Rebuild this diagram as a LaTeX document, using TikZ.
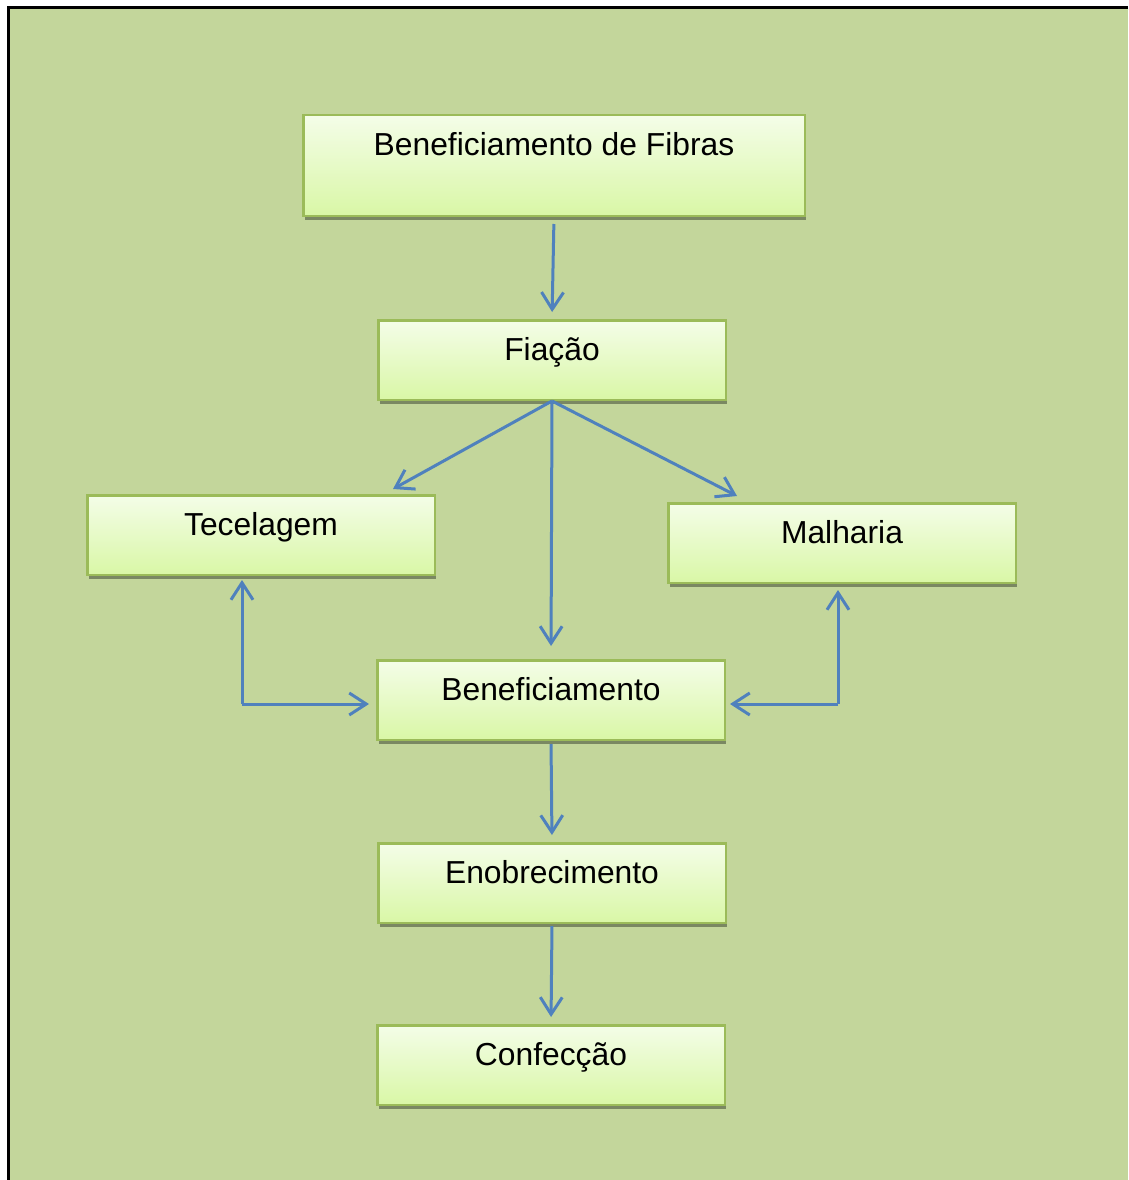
\documentclass[tikz,border=0pt]{standalone}
\usepackage{fontspec}
\setmainfont{Liberation Sans}
\usetikzlibrary{arrows.meta,shadows,calc}
\definecolor{bgGreen}{HTML}{C3D69B}
\definecolor{boxEdge}{HTML}{9BBB59}
\definecolor{boxTop}{HTML}{F4FDE8}
\definecolor{boxBottom}{HTML}{D9F7A6}
\definecolor{boxShadow}{HTML}{7A8862}
\definecolor{flowBlue}{HTML}{4F81BD}
\tikzset{
  x=1pt, y=-1pt,
  stagebox/.style={draw=boxEdge, line width=2.5pt, top color=boxTop, bottom color=boxBottom,
    minimum width=347.5pt, minimum height=79.5pt, inner sep=0pt,
    drop shadow={shadow xshift=1.5pt, shadow yshift=-4pt, fill=boxShadow, opacity=1}},
  stagetext/.style={anchor=base, font=\fontsize{31.8}{38}\selectfont, inner sep=0pt},
  flow/.style={draw=flowBlue, line width=3pt,
    -{Straight Barb[length=17pt, width=22pt, line width=3pt]}},
}
\newcommand{\stagelabel}[2]{\node[stagetext] at ($(#1.north)+(0,41)$) {#2};}
\begin{document}
\begin{tikzpicture}
\useasboundingbox (0,0) rectangle (1128,1180);
\fill[white] (0,0) rectangle (1128,1180);
\fill[bgGreen] (8,8) rectangle (1128,1180);
\draw[black, line width=3pt] (8,1180) -- (8,8) -- (1128,8);

\node[stagebox, minimum width=501.5pt, minimum height=100.5pt] (fibras) at (554,165.5) {};
\node[stagebox] (fiacao) at (552,360) {};
\node[stagebox] (tecel) at (261,535) {};
\node[stagebox] (malha) at (842,543) {};
\node[stagebox] (benef) at (551,700) {};
\node[stagebox] (enob) at (552,883) {};
\node[stagebox] (conf) at (551,1065) {};

\stagelabel{fibras}{Beneficiamento de Fibras}
\stagelabel{fiacao}{Fiação}
\stagelabel{tecel}{Tecelagem}
\stagelabel{malha}{Malharia}
\stagelabel{benef}{Beneficiamento}
\stagelabel{enob}{Enobrecimento}
\stagelabel{conf}{Confecção}

\coordinate (tecCorner) at (242,704);
\coordinate (malCorner) at (838,704);

\draw[flow, shorten <=7pt, shorten >=7pt] (fibras.south) -- (fiacao.north);
\draw[flow] (fiacao.south) -- ($(tecel.north east)+(-43,-5)$);
\draw[flow] (fiacao.south) -- ($(malha.north west)+(70,-6)$);
\draw[flow, shorten >=13pt] (fiacao.south) -- (benef.north);
\draw[flow, shorten >=4pt] (tecCorner) -- (tecel.south -| tecCorner);
\draw[flow, shorten >=7pt] (tecCorner) -- (benef.west |- tecCorner);
\draw[flow, shorten >=6pt] (malCorner) -- (malha.south -| malCorner);
\draw[flow, shorten >=4pt] (malCorner) -- (benef.east |- malCorner);
\draw[flow, shorten <=3pt, shorten >=7pt] (benef.south) -- (enob.north);
\draw[flow, shorten <=2pt, shorten >=7pt] (enob.south) -- (conf.north);
\end{tikzpicture}
\end{document}
